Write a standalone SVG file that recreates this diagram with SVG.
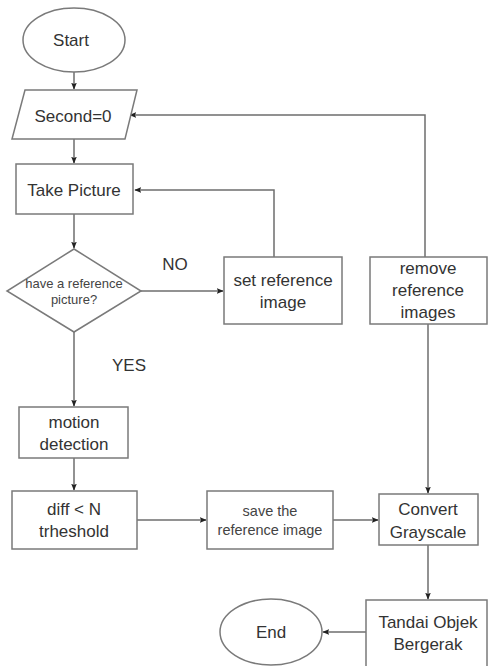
<svg xmlns="http://www.w3.org/2000/svg" width="488" height="666" viewBox="0 0 488 666">
<style>
.s{fill:#fff;stroke:#7a7a7a;stroke-width:1.5}
.t{font-family:"Liberation Sans",Arial,sans-serif;font-size:17px;fill:#333;text-anchor:middle}
.ts{font-family:"Liberation Sans",Arial,sans-serif;font-size:13px;fill:#444;text-anchor:middle}
.tm{font-family:"Liberation Sans",Arial,sans-serif;font-size:14.5px;fill:#444;text-anchor:middle}
.c{fill:none;stroke:#6e6e6e;stroke-width:1.5}
</style>
<defs>
<marker id="a" viewBox="0 0 10 10" refX="9" refY="5" markerWidth="7" markerHeight="7" markerUnits="userSpaceOnUse" orient="auto">
<path d="M0,1 L10,5 L0,9 L2,5 Z" fill="#222"/>
</marker>
</defs>
<rect width="488" height="666" fill="#fff"/>
<g id="connectors">
<path class="c" d="M74,72 V89" marker-end="url(#a)"/>
<path class="c" d="M74,139 V163" marker-end="url(#a)"/>
<path class="c" d="M74,214 V248" marker-end="url(#a)"/>
<path class="c" d="M141,291 H223" marker-end="url(#a)"/>
<path class="c" d="M274,257 V190 H135" marker-end="url(#a)"/>
<path class="c" d="M425,257 V115 H130" marker-end="url(#a)"/>
<path class="c" d="M74,332 V406" marker-end="url(#a)"/>
<path class="c" d="M74,458 V490" marker-end="url(#a)"/>
<path class="c" d="M137,520 H206" marker-end="url(#a)"/>
<path class="c" d="M333,520 H378" marker-end="url(#a)"/>
<path class="c" d="M428,324 V493" marker-end="url(#a)"/>
<path class="c" d="M428,545 V599" marker-end="url(#a)"/>
<path class="c" d="M366,632 H323" marker-end="url(#a)"/>
<text class="t" x="175" y="270">NO</text>
<text class="t" x="129" y="371">YES</text>
</g>
<g id="start">
<ellipse class="s" cx="74" cy="40" rx="51" ry="32"/>
<text class="t" x="71" y="46">Start</text>
</g>
<g id="second">
<polygon class="s" points="25,90 137,90 125,139 12,139"/>
<text class="t" x="73" y="122">Second=0</text>
</g>
<g id="take">
<rect class="s" x="16" y="164" width="117" height="50"/>
<text class="t" x="74" y="196">Take Picture</text>
</g>
<g id="decision">
<polygon class="s" points="74,249 141,291 74,332 7,291"/>
<text class="ts" x="74" y="288">have a reference</text>
<text class="ts" x="74" y="304">picture?</text>
</g>
<g id="setref">
<rect class="s" x="224" y="257" width="118" height="67"/>
<text class="t" x="283" y="286">set reference</text>
<text class="t" x="283" y="308">image</text>
</g>
<g id="removeref">
<rect class="s" x="370" y="257" width="117" height="67"/>
<text class="t" x="428" y="274">remove</text>
<text class="t" x="428" y="296">reference</text>
<text class="t" x="428" y="318">images</text>
</g>
<g id="motion">
<rect class="s" x="19" y="407" width="109" height="51"/>
<text class="t" x="74" y="428">motion</text>
<text class="t" x="74" y="450">detection</text>
</g>
<g id="diff">
<rect class="s" x="12" y="491" width="125" height="58"/>
<text class="t" x="74" y="515">diff &lt; N</text>
<text class="t" x="74" y="537">trheshold</text>
</g>
<g id="save">
<rect class="s" x="207" y="491" width="126" height="58"/>
<text class="tm" x="270" y="516">save the</text>
<text class="tm" x="270" y="535">reference image</text>
</g>
<g id="convert">
<rect class="s" x="379" y="494" width="99" height="51"/>
<text class="t" x="428" y="515">Convert</text>
<text class="t" x="428" y="538">Grayscale</text>
</g>
<g id="tandai">
<rect class="s" x="366" y="600" width="121" height="72"/>
<text class="t" x="428" y="628">Tandai Objek</text>
<text class="t" x="428" y="650">Bergerak</text>
</g>
<g id="end">
<ellipse class="s" cx="271" cy="632" rx="51" ry="33"/>
<text class="t" x="271" y="638">End</text>
</g>
</svg>
